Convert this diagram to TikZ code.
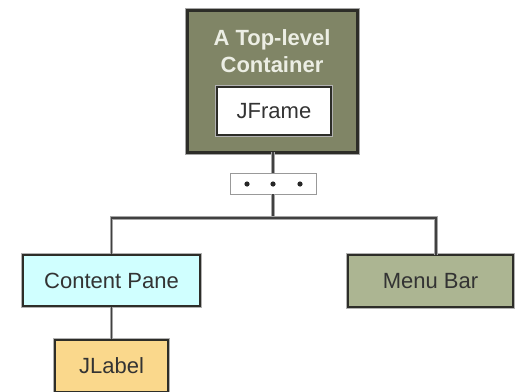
\documentclass[tikz,border=0pt]{standalone}
\usepackage{fontspec}
\setmainfont{Liberation Sans}
\definecolor{topfill}{RGB}{128,133,102}
\definecolor{menufill}{RGB}{172,181,146}
\definecolor{panefill}{RGB}{208,255,255}
\definecolor{labelfill}{RGB}{250,216,140}
\definecolor{boxline}{RGB}{45,45,40}
\definecolor{titletext}{RGB}{236,238,228}
\tikzset{
  box/.style={rectangle, draw=boxline, line width=1.6pt,
    preaction={draw=black!30, line width=3.6pt},
    inner sep=0pt, text=black!80,
    font=\fontsize{22}{27}\selectfont},
  conn/.style={draw=black!75, line width=1.6pt,
    preaction={draw=black!35, line width=3.8pt}},
}
\begin{document}
\begin{tikzpicture}[x=1pt,y=-1pt]
\useasboundingbox (0,0) rectangle (516,391);
% top-level container
\node[box, fill=topfill, draw=boxline, line width=3pt,
      preaction={draw=black!35, line width=5pt},
      minimum width=170pt, minimum height=142pt] (top) at (272,81) {};
\node[font=\bfseries\fontsize{22}{27}\selectfont, text=titletext, align=center,
      inner sep=0pt] (title) at (272,51) {A Top-level\\Container};
\node[box, fill=white, minimum width=114pt, minimum height=48pt] (jframe) at (274,111) {JFrame};
% dots box
\coordinate (bus) at (273,218);
\coordinate (topbot) at (273,152);
\coordinate (mbtop) at (436,255);
\node[rectangle, draw=black!40, line width=0.8pt, fill=white,
      minimum width=86pt, minimum height=21pt, inner sep=0pt] (dots) at (273,183.5) {};
\draw[conn] (topbot) -- (dots.north);
\draw[conn] (dots.south) -- (bus);
\foreach \i/\xx in {1/247,2/273,3/300}{
  \fill[black!85] (\xx,184) circle (2.6pt);
}
% children
\node[box, fill=panefill, minimum width=177pt, minimum height=51pt] (content) at (111.5,280.5) {Content Pane};
\node[box, fill=menufill, minimum width=165pt, minimum height=52pt] (menubar) at (430.5,281) {Menu Bar};
\node[box, fill=labelfill, minimum width=113pt, minimum height=52pt] (jlabel) at (111.5,366) {JLabel};
\draw[conn] (content.north) |- (bus) -| (mbtop);
\draw[conn] (content.south) -- (jlabel.north);
\end{tikzpicture}
\end{document}
